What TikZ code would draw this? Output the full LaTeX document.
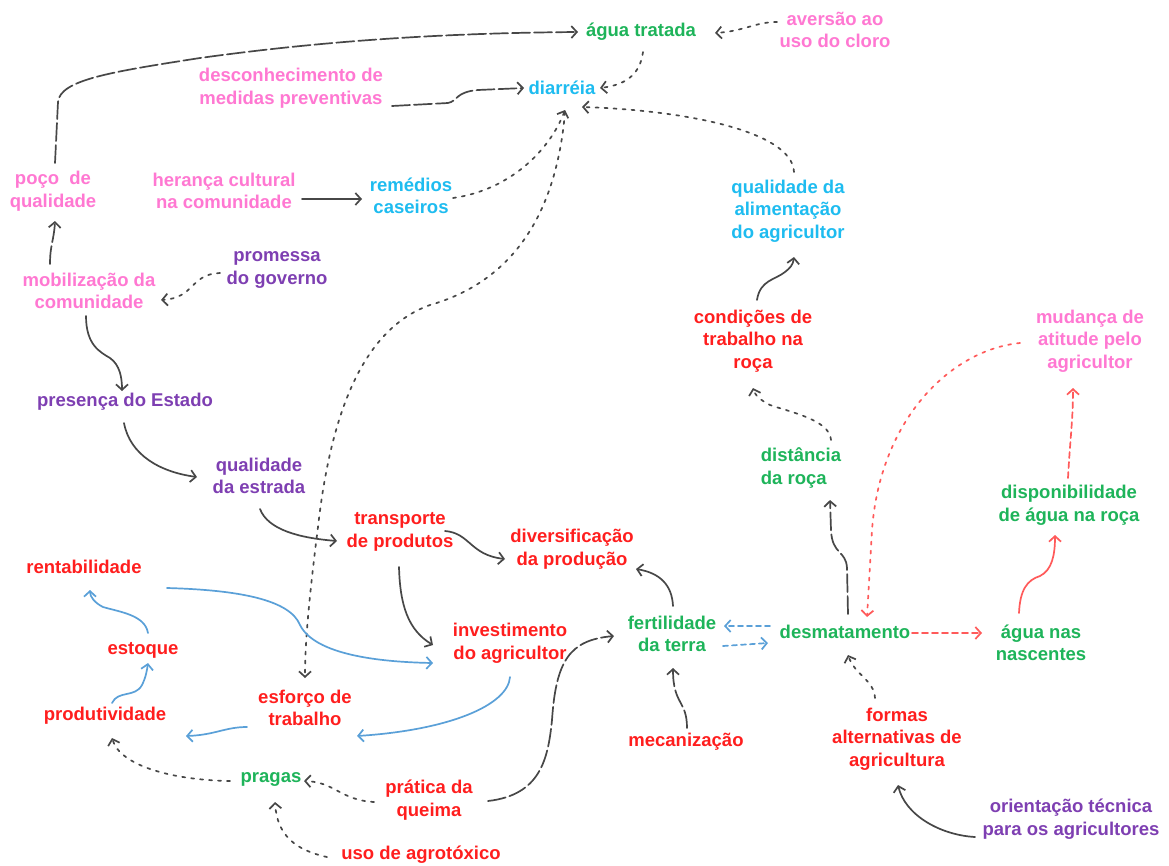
\documentclass[tikz,border=0pt]{standalone}
\usepackage{fontspec}
\setmainfont{Liberation Sans}
\usetikzlibrary{arrows.meta,calc}

\definecolor{cgreen}{HTML}{1EB45A}
\definecolor{cpink}{HTML}{FF78D2}
\definecolor{ccyan}{HTML}{1EBCF0}
\definecolor{cpurple}{HTML}{7E3FB2}
\definecolor{cred}{HTML}{FF1E1E}
\definecolor{cdark}{HTML}{474747}
\definecolor{cblue}{HTML}{5AA0D8}
\definecolor{clred}{HTML}{FF5A5A}

\begin{document}
\begin{tikzpicture}[x=1pt,y=-1pt,
  lbl/.style={inner sep=0pt, align=center, font=\fontsize{18.5}{22.5}\selectfont\bfseries},
  green/.style={lbl, text=cgreen},
  pink/.style={lbl, text=cpink},
  cyan/.style={lbl, text=ccyan},
  purple/.style={lbl, text=cpurple},
  red/.style={lbl, text=cred},
  link/.style={draw=cdark, line width=1.7pt, line cap=round,
    -{Straight Barb[length=5.5pt,width=12pt]}},
  dots/.style={link, dash pattern=on 3pt off 6pt},
  longdash/.style={link, dash pattern=on 18pt off 4pt},
  bluelink/.style={link, draw=cblue},
  bluedash/.style={bluelink, dash pattern=on 5pt off 4pt},
  redlink/.style={link, draw=clred},
  reddash/.style={redlink, dash pattern=on 6pt off 4pt},
  reddots/.style={redlink, dash pattern=on 3pt off 6pt}]
\useasboundingbox[fill=white] (0,0) rectangle (1169,865);

% ---- labels ----
\node[green]  (agua)     at (641,32)  {água tratada};
\node[pink]   (aversao)  at (835,30)  {aversão ao\\uso do cloro};
\node[pink]   (descon)   at (291,88)  {desconhecimento de\\medidas preventivas};
\node[cyan]   (diarreia) at (562,88)  {diarréia};
\node[pink]   (poco)     at (53,191)  {poço\ \ de\\qualidade};
\node[pink]   (heranca)  at (224,191) {herança cultural\\na comunidade};
\node[cyan]   (remedios) at (411,196) {remédios\\caseiros};
\node[cyan]   (alim)     at (788,211) {qualidade da\\alimentação\\do agricultor};
\node[pink]   (mobil)    at (89,291)  {mobilização da\\comunidade};
\node[purple] (promessa) at (277,270) {promessa\\do governo};
\node[red]    (condic)   at (753,341) {condições de\\trabalho na\\roça};
\node[pink]   (mudanca)  at (1090,341){mudança de\\atitude pelo\\agricultor};
\node[purple] (estado)   at (125,402) {presença do Estado};
\node[purple] (estrada)  at (259,476) {qualidade\\da estrada};
\node[green,align=left] (distancia) at (801,468) {distância\\da roça};
\node[green]  (dispon)   at (1069,505){disponibilidade\\de água na roça};
\node[red]    (transp)   at (400,532) {transporte\\de produtos};
\node[red]    (divers)   at (572,549) {diversificação\\da produção};
\node[red]    (rentab)   at (84,567)  {rentabilidade};
\node[red]    (estoque)  at (143,650) {estoque};
\node[red]    (invest)   at (510,643) {investimento\\do agricultor};
\node[green]  (fertil)   at (672,634) {fertilidade\\da terra};
\node[green]  (desmat)   at (845,632) {desmatamento};
\node[green]  (nascent)  at (1041,643){água nas\\nascentes};
\node[red]    (esforco)  at (305,708) {esforço de\\trabalho};
\node[red]    (produt)   at (105,716) {produtividade};
\node[red]    (mecan)    at (686,742) {mecanização};
\node[red]    (formas)   at (897,739) {formas\\alternativas de\\agricultura};
\node[green]  (pragas)   at (271,779) {pragas};
\node[red]    (queima)   at (429,800) {prática da\\queima};
\node[purple] (orient)   at (1071,819){orientação técnica\\para os agricultores};
\node[red]    (agrotox)  at (421,855) {uso de agrotóxico};

% ---- dark connectors ----
\draw[longdash] ($(poco)+(2,-28)$) -- (58,102)
  .. controls (60,80) and (110,72) .. (200,58)
  .. controls (330,40) and (450,33) .. ($(agua)+(-63,0)$);
\draw[dots] ($(aversao)+(-58,-8)$) .. controls (755,22) and (745,31) .. ($(agua)+(74,1)$);
\draw[dots] ($(agua)+(2,20)$) .. controls (640,75) and (625,85) .. ($(diarreia)+(38,0)$);
\draw[longdash] ($(descon)+(101,18)$) -- (448,103)
  .. controls (458,101) and (455,92) .. (478,90) -- ($(diarreia)+(-38,0)$);
\draw[dots] ($(alim)+(6,-39)$) .. controls (792,130) and (680,110) .. ($(diarreia)+(20,19)$);
\draw[link] ($(heranca)+(78,8)$) -- ($(remedios)+(-49,3)$);
\draw[dots] ($(remedios)+(42,2)$) .. controls (510,190) and (550,150) .. ($(diarreia)+(3,22)$);
\draw[dots] ($(diarreia)+(3,24)$) .. controls (555,230) and (500,285) .. (430,305)
  .. controls (360,330) and (330,420) .. (318,527)
  .. controls (310,590) and (305,640) .. ($(esforco)+(0,-30)$);
\draw[dots] ($(promessa)+(-57,3)$) .. controls (190,274) and (195,298) .. ($(mobil)+(72,9)$);
\draw[longdash] ($(mobil)+(-39,-27)$) .. controls (50,245) and (54,240) .. ($(poco)+(2,30)$);
\draw[link] ($(mobil)+(-3,25)$) .. controls (86,345) and (100,352) .. (110,358)
  .. controls (120,365) and (122,378) .. ($(estado)+(-3,-11)$);
\draw[link] ($(estado)+(-1,21)$) .. controls (130,455) and (160,472) .. ($(estrada)+(-62,1)$);
\draw[link] ($(estrada)+(1,33)$) .. controls (268,530) and (300,538) .. ($(transp)+(-63,9)$);
\draw[link] ($(transp)+(45,-1)$) .. controls (470,533) and (470,555) .. ($(divers)+(-67,10)$);
\draw[link] ($(transp)+(-1,35)$) .. controls (400,605) and (408,630) .. ($(invest)+(-77,2)$);
\draw[dots] ($(pragas)+(-41,2)$) .. controls (170,780) and (120,765) .. ($(produt)+(7,22)$);
\draw[dots] ($(queima)+(-55,2)$) .. controls (340,800) and (335,782) .. ($(pragas)+(33,2)$);
\draw[dots] ($(agrotox)+(-94,2)$) .. controls (295,850) and (277,835) .. ($(pragas)+(4,23)$);
\draw[longdash] ($(queima)+(59,1)$) .. controls (540,795) and (548,760) .. (552,720)
  .. controls (556,660) and (570,640) .. ($(fertil)+(-58,2)$);
\draw[link] ($(fertil)+(1,-28)$) .. controls (672,585) and (660,573) .. ($(divers)+(64,20)$);
\draw[longdash] ($(mecan)+(1,-14)$) .. controls (687,700) and (673,705) .. ($(fertil)+(1,34)$);
\draw[longdash] ($(desmat)+(3,-18)$) -- (847,568)
  .. controls (846,550) and (832,555) .. (831,530) -- ($(distancia)+(29,32)$);
\draw[dots] ($(distancia)+(30,-28)$) .. controls (830,420) and (790,412) .. (770,405)
  .. controls (760,400) and (755,395) .. ($(condic)+(0,47)$);
\draw[link] ($(condic)+(4,-41)$) .. controls (760,280) and (775,280) .. (785,272)
  .. controls (790,268) and (793,265) .. ($(alim)+(6,46)$);
\draw[dots] ($(formas)+(-22,-41)$) .. controls (874,680) and (855,675) .. ($(desmat)+(3,23)$);
\draw[link] ($(orient)+(-96,18)$) .. controls (940,835) and (905,815) .. ($(formas)+(1,46)$);

% ---- blue connectors ----
\draw[bluelink] ($(rentab)+(83,21)$) .. controls (240,590) and (290,600) .. (300,625)
  .. controls (315,655) and (380,662) .. ($(invest)+(-77,20)$);
\draw[bluelink] ($(estoque)+(5,-17)$) .. controls (145,615) and (120,612) .. (103,607)
  .. controls (95,603) and (90,597) .. ($(rentab)+(6,23)$);
\draw[bluelink] ($(produt)+(7,-13)$) .. controls (118,690) and (135,698) .. (142,685)
  .. controls (146,677) and (147,670) .. ($(estoque)+(5,13)$);
\draw[bluelink] ($(invest)+(0,34)$) .. controls (508,705) and (450,730) .. ($(esforco)+(52,28)$);
\draw[bluelink] ($(esforco)+(-58,19)$) .. controls (225,727) and (215,735) .. ($(produt)+(81,20)$);
\draw[bluedash] ($(desmat)+(-75,-6)$) -- ($(fertil)+(52,-8)$);
\draw[bluedash] ($(fertil)+(51,12)$) -- ($(desmat)+(-77,11)$);

% ---- red connectors ----
\draw[reddots] ($(mudanca)+(-70,2)$) .. controls (950,350) and (880,420) .. (872,530)
  -- ($(desmat)+(22,-15)$);
\draw[reddash] ($(desmat)+(67,1)$) -- ($(nascent)+(-59,-10)$);
\draw[redlink] ($(nascent)+(-22,-30)$) .. controls (1020,590) and (1027,580) .. (1040,576)
  .. controls (1052,570) and (1055,555) .. ($(dispon)+(-14,30)$);
\draw[reddash] ($(dispon)+(-1,-27)$) .. controls (1070,440) and (1073,420) .. ($(mudanca)+(-17,47)$);
\end{tikzpicture}
\end{document}
